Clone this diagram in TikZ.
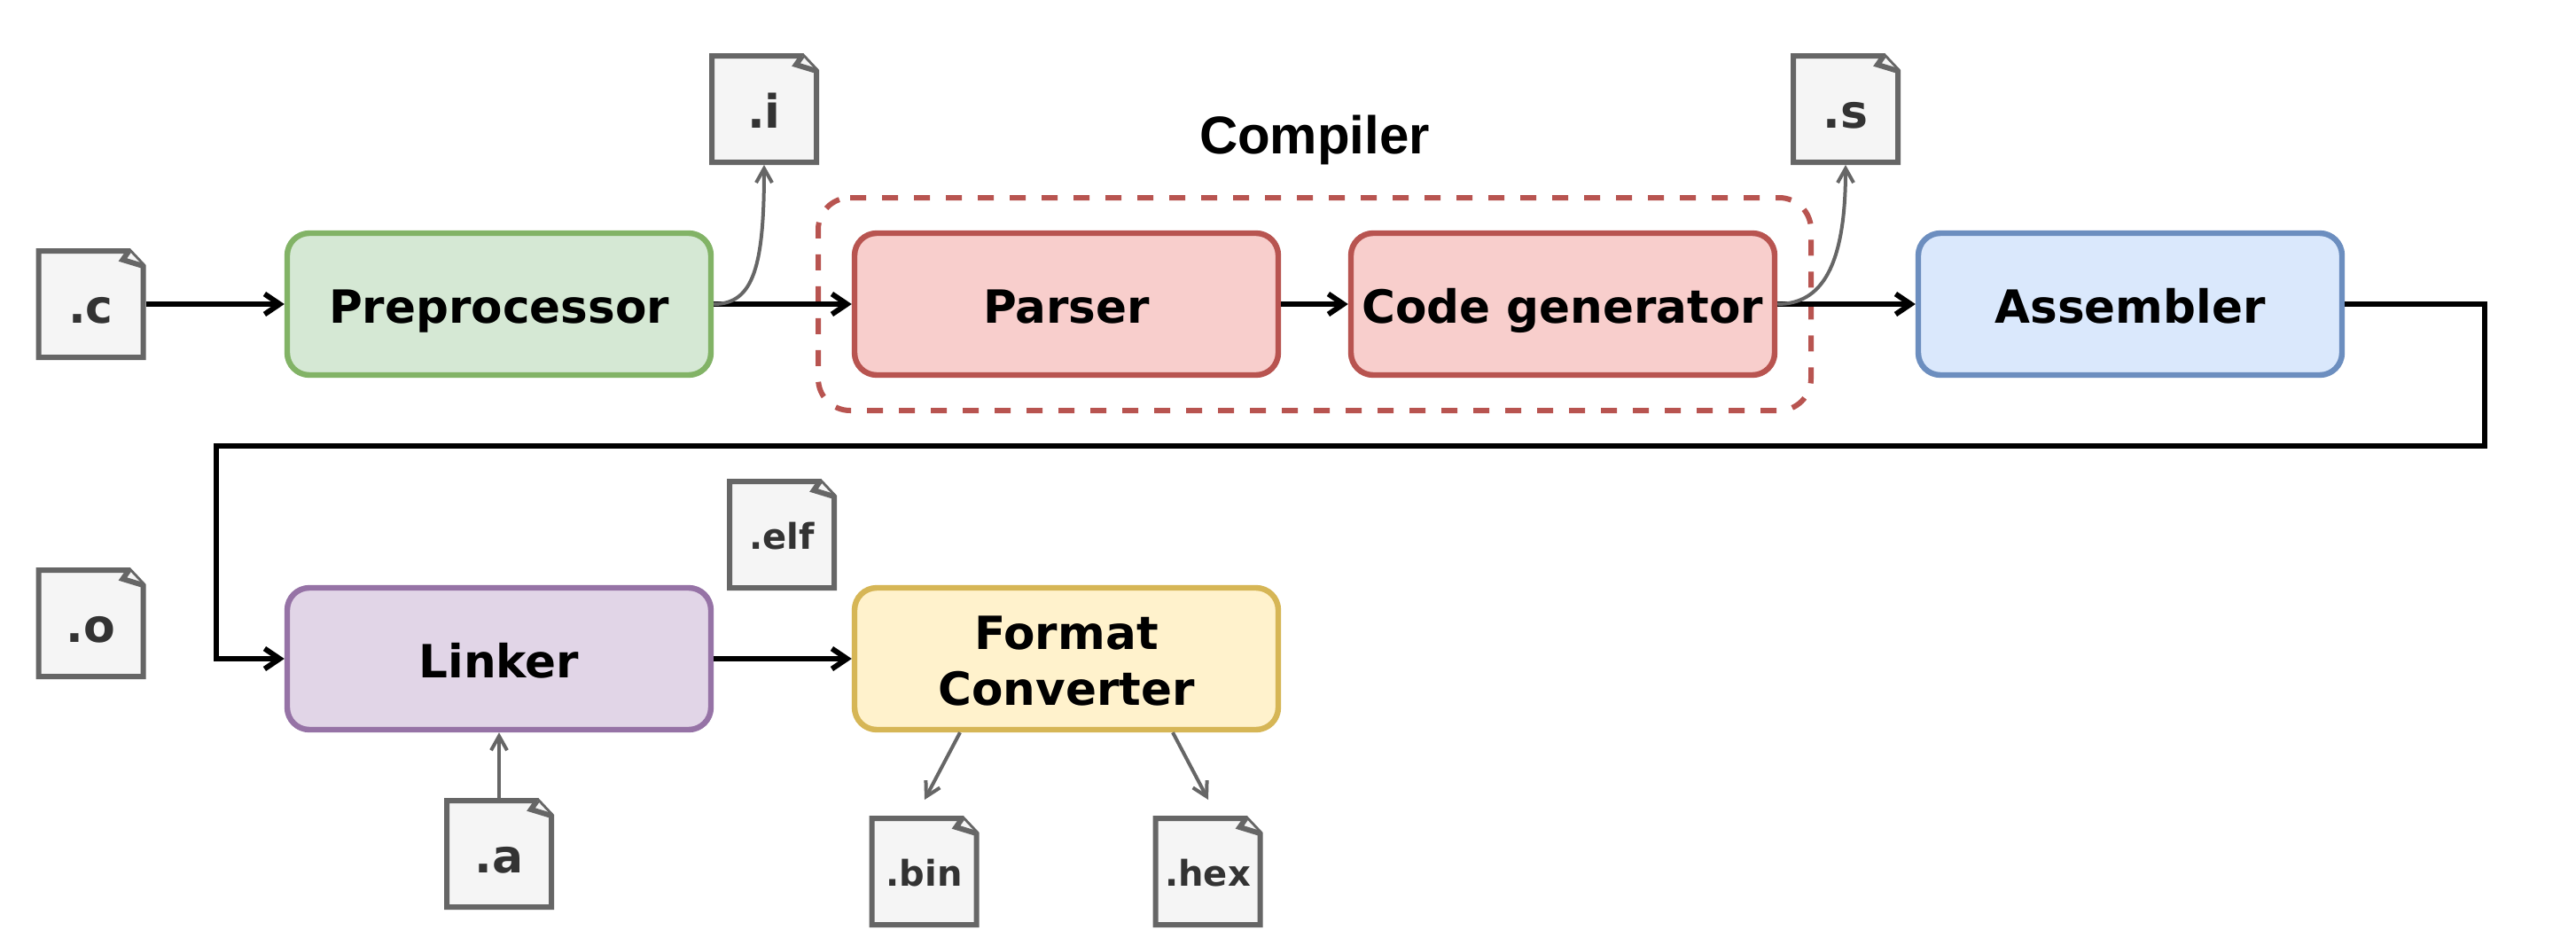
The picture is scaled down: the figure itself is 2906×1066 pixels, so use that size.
\documentclass[tikz,border=0pt]{standalone}
\usepackage{fontspec}
\setmainfont{DejaVu Sans}
\newfontfamily\capfont{Liberation Sans}
\usetikzlibrary{arrows.meta,calc}
\definecolor{gline}{HTML}{666666}
\definecolor{gfill}{HTML}{F5F5F5}
\definecolor{gtext}{HTML}{333333}
\definecolor{redline}{HTML}{B85450}
\definecolor{redfill}{HTML}{F8CECC}
\definecolor{greenline}{HTML}{82B366}
\definecolor{greenfill}{HTML}{D5E8D4}
\definecolor{blueline}{HTML}{6C8EBF}
\definecolor{bluefill}{HTML}{DAE8FC}
\definecolor{purpleline}{HTML}{9673A6}
\definecolor{purplefill}{HTML}{E1D5E7}
\definecolor{yellowline}{HTML}{D6B656}
\definecolor{yellowfill}{HTML}{FFF2CC}
\tikzset{
  stage/.style={draw,line width=3.2pt,rounded corners=12.5pt,minimum width=239pt,minimum height=80pt,
    inner sep=0pt,align=center,text=black,font=\fontsize{25.8}{31.5}\selectfont\bfseries,
    text height=24pt,text depth=3pt},
  flow/.style={draw=black,line width=3pt,-{Straight Barb[length=8.5pt,width=11.5pt]},miter limit=10},
  filelink/.style={draw=gline,line width=2pt,-{Straight Barb[length=8pt,width=9pt]}},
  filebody/.style={minimum width=62pt,minimum height=63pt,inner sep=0pt,outer sep=0pt},
  filebig/.style={anchor=base,inner sep=0pt,text=gtext,font=\fontsize{26}{30}\selectfont\bfseries},
  filesmall/.style={anchor=base,inner sep=0pt,text=gtext,font=\fontsize{20}{24}\selectfont\bfseries},
  fileline/.style={draw=gline,line width=3pt,miter limit=10,line join=miter},
}
% name, cx, cy, style, baseline offset, text
\newcommand{\fileicon}[6]{%
  \node[filebody] (#1) at (#2,#3) {};
  \begin{scope}[shift={(#2,#3)}]
    \draw[fileline,fill=gfill] (-59,-60) -- (43,-60) -- (59,-43) -- (59,60) -- (-59,60) -- cycle;
    \draw[fileline,fill=gfill] (43,-60) -- (36,-50) -- (59,-43);
  \end{scope}
  \node[#4] (#1-label) at (#2,#3+#5) {#6};
}
\begin{document}
\begin{tikzpicture}[x=0.5pt,y=-0.5pt]
\useasboundingbox[fill=white] (0,0) rectangle (2906,1066);

% compiler group
\draw[draw=redline,line width=3pt,dash pattern=on 9pt off 9pt]
  (959,223) -- (2007,223) .. controls (2027,223) and (2043,239) .. (2043,259)
  -- (2043,427) .. controls (2043,447) and (2027,463) .. (2007,463)
  -- (959,463) .. controls (939,463) and (923,447) .. (923,427)
  -- (923,259) .. controls (923,239) and (939,223) .. (959,223);
\node[anchor=center,inner sep=0pt,font=\capfont\fontsize{30}{36}\selectfont\bfseries] (complabel) at (1483,158) {Compiler};

% stages
\node[stage,draw=greenline,fill=greenfill] (pre) at (563,343) {Preprocessor};
\node[stage,draw=redline,fill=redfill] (parser) at (1203,343) {Parser};
\node[stage,draw=redline,fill=redfill] (codegen) at (1763,343) {Code generator};
\node[stage,draw=blueline,fill=bluefill] (asm) at (2403,343) {Assembler};
\node[stage,draw=purpleline,fill=purplefill] (linker) at (563,743) {Linker};
\node[stage,draw=yellowline,fill=yellowfill,text height=55.5pt] (fmt) at (1203,743) {Format\\Converter};

% files
\fileicon{cfile}{102.5}{343}{filebig}{21}{.c}
\fileicon{ifile}{862}{123}{filebig}{21}{.i}
\fileicon{sfile}{2082}{123}{filebig}{21}{.s}
\fileicon{ofile}{102.5}{703}{filebig}{21}{.o}
\fileicon{afile}{563}{963}{filebig}{21}{.a}
\fileicon{elffile}{882}{603}{filesmall}{16}{.elf}
\fileicon{binfile}{1042.5}{983}{filesmall}{16}{.bin}
\fileicon{hexfile}{1362.5}{983}{filesmall}{16}{.hex}

% main flow
\coordinate (routeR) at (2803,503);
\coordinate (routeL) at (244,503);
\draw[flow] (cfile.east) -- (pre.west);
\draw[flow] (pre.east) -- (parser.west);
\draw[flow] (parser.east) -- (codegen.west);
\draw[flow] (codegen.east) -- (asm.west);
\draw[flow] (asm.east) -| (routeR) -- (routeL) |- (linker.west);
\draw[flow] (linker.east) -- (fmt.west);

% file links
\coordinate (binend) at (1043,902);
\coordinate (hexend) at (1363,902);
\draw[filelink] (pre.east) .. controls +(45,0) and +(0,114) .. (ifile.south);
\draw[filelink] (codegen.east) .. controls +(50,0) and +(0,114) .. (sfile.south);
\draw[filelink] (afile.north) -- (linker.south);
\draw[filelink] ($(fmt.south)+(-120,0)$) -- (binend);
\draw[filelink] ($(fmt.south)+(120,0)$) -- (hexend);
\end{tikzpicture}
\end{document}
